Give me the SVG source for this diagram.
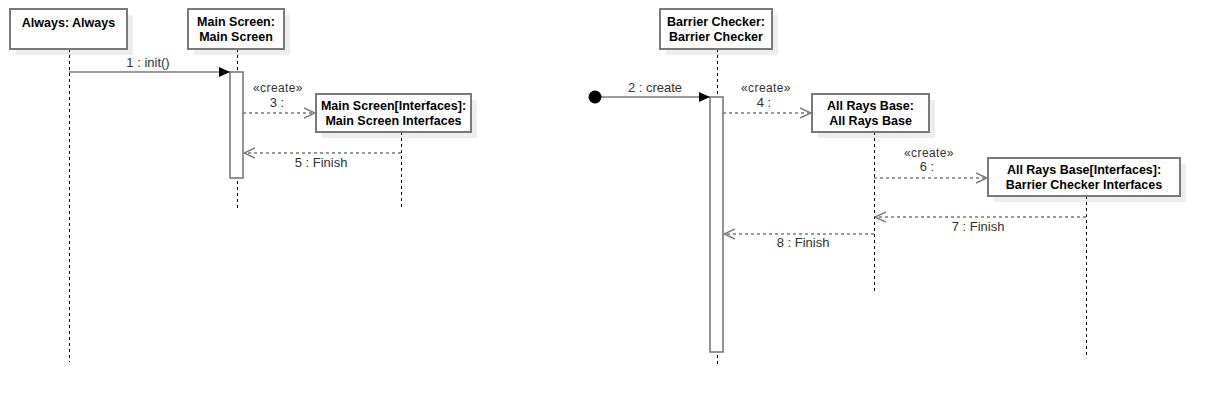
<svg xmlns="http://www.w3.org/2000/svg" width="1222" height="406" viewBox="0 0 1222 406">
<defs>
<style>
.box{fill:#fff;stroke:#7a7a7a;stroke-width:2}
.shadow{fill:#eeeeee;stroke:none}
.act{fill:#fff;stroke:#7a7a7a;stroke-width:1.6}
.life{stroke:#000;stroke-width:1;stroke-dasharray:3,3;fill:none}
.t{font-family:"Liberation Sans",Arial,sans-serif;font-size:12.5px;font-weight:bold;fill:#000;text-anchor:middle}
.lbl{font-family:"Liberation Sans",Arial,sans-serif;font-size:13px;fill:#333;text-anchor:middle}
.st{font-family:"Liberation Sans",Arial,sans-serif;font-size:12px;fill:#333;text-anchor:middle;letter-spacing:0.4px}
.sync{stroke:#7a7a7a;stroke-width:1.6;fill:none}
.dash{stroke:#7a7a7a;stroke-width:1.6;fill:none;stroke-dasharray:3,3}
</style>
<marker id="filled" markerWidth="12" markerHeight="10" refX="11" refY="5" orient="auto" markerUnits="userSpaceOnUse">
<path d="M0,0 L11,5 L0,10 Z" fill="#000"/>
</marker>
<marker id="open" markerWidth="12" markerHeight="12" refX="11" refY="6" orient="auto" markerUnits="userSpaceOnUse">
<path d="M0,1 L11,6 L0,11" fill="none" stroke="#7a7a7a" stroke-width="1.4"/>
</marker>
</defs>

<g id="always">
<rect class="shadow" x="16" y="15" width="117" height="40"/>
<line class="life" x1="69.5" y1="49" x2="69.5" y2="362"/>
<rect class="box" x="10" y="9" width="117" height="40"/>
<text class="t" x="68.5" y="27">Always: Always</text>
</g>

<g id="main-screen">
<rect class="shadow" x="194" y="15" width="96" height="40"/>
<line class="life" x1="237.5" y1="49" x2="237.5" y2="208"/>
<rect class="box" x="188" y="9" width="96" height="40"/>
<text class="t" x="236" y="26">Main Screen:</text>
<text class="t" x="236" y="41">Main Screen</text>
<rect class="act" x="230" y="72" width="13" height="106"/>
</g>

<g id="main-screen-interfaces">
<rect class="shadow" x="322" y="100" width="155" height="38"/>
<line class="life" x1="401.5" y1="132" x2="401.5" y2="208"/>
<rect class="box" x="316" y="94" width="155" height="38"/>
<text class="t" x="393.5" y="110">Main Screen[Interfaces]:</text>
<text class="t" x="393.5" y="125">Main Screen Interfaces</text>
</g>

<g id="barrier-checker">
<rect class="shadow" x="666" y="15" width="112" height="40"/>
<line class="life" x1="717.5" y1="49" x2="717.5" y2="366"/>
<rect class="box" x="660" y="9" width="112" height="40"/>
<text class="t" x="716" y="26">Barrier Checker:</text>
<text class="t" x="716" y="41">Barrier Checker</text>
<rect class="act" x="710" y="97" width="13" height="255"/>
</g>

<g id="all-rays-base">
<rect class="shadow" x="818" y="100" width="117" height="38"/>
<line class="life" x1="874.5" y1="132" x2="874.5" y2="294"/>
<rect class="box" x="812" y="94" width="117" height="38"/>
<text class="t" x="870.5" y="110">All Rays Base:</text>
<text class="t" x="870.5" y="125">All Rays Base</text>
</g>

<g id="all-rays-base-interfaces">
<rect class="shadow" x="994" y="164" width="192" height="38"/>
<line class="life" x1="1086.5" y1="196" x2="1086.5" y2="358"/>
<rect class="box" x="988" y="158" width="192" height="38"/>
<text class="t" x="1084" y="174">All Rays Base[Interfaces]:</text>
<text class="t" x="1084" y="189">Barrier Checker Interfaces</text>
</g>

<g id="connectors">
<line class="sync" x1="69" y1="72" x2="230" y2="72" marker-end="url(#filled)"/>
<text class="lbl" x="148" y="67">1 : init()</text>

<line class="dash" x1="243" y1="113" x2="315" y2="113" marker-end="url(#open)"/>
<text class="st" x="278" y="92">«create»</text>
<text class="lbl" x="277" y="107">3 :</text>

<line class="dash" x1="401" y1="153" x2="244" y2="153" marker-end="url(#open)"/>
<text class="lbl" x="321" y="167">5 : Finish</text>

<line class="sync" x1="595" y1="97" x2="710" y2="97" marker-end="url(#filled)"/>
<circle cx="595" cy="97" r="6.5" fill="#000"/>
<text class="lbl" x="655" y="92">2 : create</text>

<line class="dash" x1="723" y1="113" x2="811" y2="113" marker-end="url(#open)"/>
<text class="st" x="766" y="92">«create»</text>
<text class="lbl" x="764" y="107">4 :</text>

<line class="dash" x1="874" y1="178" x2="987" y2="178" marker-end="url(#open)"/>
<text class="st" x="929" y="157">«create»</text>
<text class="lbl" x="927" y="171">6 :</text>

<line class="dash" x1="1086" y1="217" x2="875" y2="217" marker-end="url(#open)"/>
<text class="lbl" x="978" y="231">7 : Finish</text>

<line class="dash" x1="874" y1="234" x2="724" y2="234" marker-end="url(#open)"/>
<text class="lbl" x="803" y="247">8 : Finish</text>
</g>
</svg>
